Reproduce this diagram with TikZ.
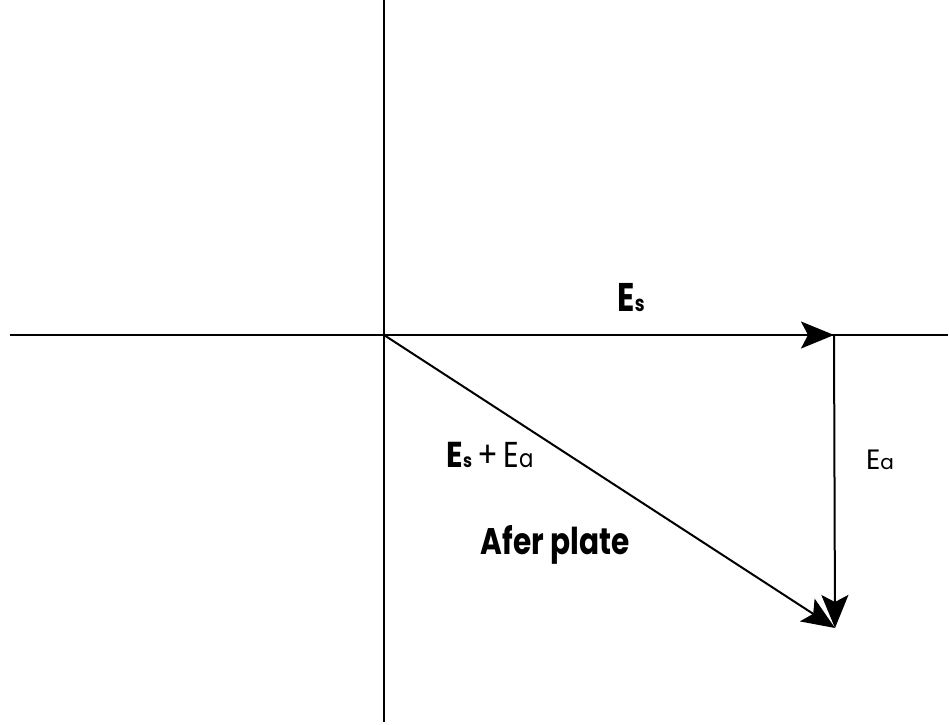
\documentclass[tikz,border=0pt]{standalone}
\usepackage{fontspec}
\setmainfont{Poppins}
\usetikzlibrary{arrows.meta}
\begin{document}
\begin{tikzpicture}[x=1pt,y=-1pt,
  axis/.style={line width=1.6pt},
  vec/.style={line width=2pt,-{Stealth[length=33pt,width=27pt,inset=7pt]}},
  lbl/.style={inner sep=0pt,anchor=center}]
\useasboundingbox (0,0) rectangle (949,724);
\coordinate (L) at (10,335);
\coordinate (R) at (948,335);
\coordinate (T) at (384,0);
\coordinate (Bt) at (384,722);
\coordinate (O) at (384,335);
\coordinate (A) at (834,335);
\coordinate (B) at (835,628);
\draw[axis] (L) -- (R);
\draw[axis] (T) -- (Bt);
\draw[vec] (O) -- (A);
\draw[vec] (A) -- (B);
\draw[vec] (O) -- (B);
\node[lbl] (es) at (631,298) {\scalebox{0.8}[1]{\fontsize{40}{40}\selectfont\bfseries E{\fontsize{22}{22}\selectfont s}}};
\node[lbl] (sum) at (490,455) {\scalebox{0.85}[1]{\fontsize{36}{36}\selectfont{\bfseries E{\fontsize{19}{19}\selectfont s}}\,+\,E{\fontsize{25}{25}\selectfont a}}};
\node[lbl] (ea) at (880,460) {\fontsize{28}{28}\selectfont E{\fontsize{20}{20}\selectfont a}};
\node[lbl] (after) at (555,545) {\scalebox{0.8}[1]{\fontsize{37}{37}\selectfont\bfseries Afer plate}};
\end{tikzpicture}
\end{document}
